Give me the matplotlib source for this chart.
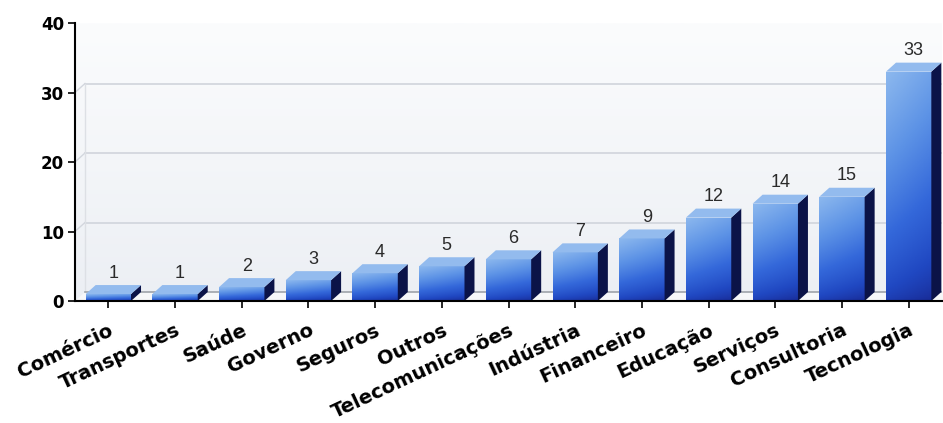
import numpy as np
import matplotlib.pyplot as plt
from matplotlib.colors import LinearSegmentedColormap
from matplotlib.patches import Polygon

# Empresas por setor
setores = ["Comércio", "Transportes", "Saúde", "Governo", "Seguros", "Outros",
           "Telecomunicações", "Indústria", "Financeiro", "Educação", "Serviços",
           "Consultoria", "Tecnologia"]
empresas = [1, 1, 2, 3, 4, 5, 6, 7, 9, 12, 14, 15, 33]
y_ticks = [0, 10, 20, 30, 40]
grid_vals = [10, 20, 30]

W, H = 943, 423
fig = plt.figure(figsize=(W / 100, H / 100), dpi=100)
ax_px = [75, 122, 867, 278]  # left, bottom, width, height in pixels
ax = fig.add_axes([ax_px[0] / W, ax_px[1] / H, ax_px[2] / W, ax_px[3] / H])

n = len(setores)
xmin, xmax = -0.5, n - 0.5
ymax = 40

# depth of the 3d look, 10 px right and 9 px up, in data units
dx = 10 * (xmax - xmin) / ax_px[2]
dy = 9 * ymax / ax_px[3]
w = 0.68

# background
bg = LinearSegmentedColormap.from_list("bg", ["#eceff4", "#fbfcfd"])
ax.imshow(np.linspace(0, 1, 100).reshape(-1, 1), extent=[xmin, xmax, 0, ymax],
          origin="lower", aspect="auto", cmap=bg, zorder=0)

# back wall grid
for g in grid_vals:
    ax.plot([xmin + dx, xmax], [g + dy, g + dy], color="#d3d7de", lw=1.3, zorder=1)
    ax.plot([xmin, xmin + dx], [g, g + dy], color="#d3d7de", lw=1.0, zorder=1)
ax.plot([xmin + dx, xmin + dx], [dy, grid_vals[-1] + dy], color="#dde0e5", lw=1.0, zorder=1)

# floor
ax.add_patch(Polygon([(xmin, 0), (xmax, 0), (xmax + dx, dy), (xmin + dx, dy)],
                     closed=True, facecolor="#f6f7f9", edgecolor="none", zorder=1,
                     clip_on=False))
ax.plot([xmin + dx, xmax], [dy, dy], color="#9ea3aa", lw=1.2, zorder=1)

front_cmap = LinearSegmentedColormap.from_list(
    "front", ["#182a95", "#2048c2", "#3468da", "#5d93e6", "#8cb8ee"])
gy = np.linspace(0, 1, 120).reshape(-1, 1)
gx = np.linspace(0, 1, 30).reshape(1, -1)
grad = np.clip(0.85 * gy ** 0.7 + 0.15 * (1 - gx), 0, 1)

bars = ax.bar(range(n), empresas, width=w, color="none", edgecolor="none", zorder=3)
for i, (bar, v) in enumerate(zip(bars, empresas)):
    x0, x1 = i - w / 2, i + w / 2
    im = ax.imshow(grad, extent=[x0, x1, 0, v], origin="lower", aspect="auto",
                   cmap=front_cmap, vmin=0, vmax=1, zorder=3)
    im.set_clip_path(bar)
    # right side face
    ax.add_patch(Polygon([(x1, 0), (x1 + dx, dy), (x1 + dx, v + dy), (x1, v)],
                         closed=True, facecolor="#0b1348", edgecolor="none",
                         zorder=3, clip_on=False))
    # top face
    ax.add_patch(Polygon([(x0, v), (x1, v), (x1 + dx, v + dy), (x0 + dx, v + dy)],
                         closed=True, facecolor="#93bbee", edgecolor="none",
                         zorder=3, clip_on=False))
    ax.text(i + dx / 2, v + dy + 0.5, str(v), ha="center", va="bottom",
            fontsize=13, family="Liberation Sans", color="#2a2a2a", zorder=4)

ax.set_xlim(xmin, xmax)
ax.set_ylim(0, ymax)
ax.set_yticks(y_ticks)
ax.set_yticklabels([str(t) for t in y_ticks], fontsize=12, fontweight="bold")
ax.set_xticks(range(n))
ax.set_xticklabels(setores, rotation=25, ha="right", va="top", rotation_mode="anchor",
                   fontsize=14, fontweight="bold")
ax.tick_params(axis="both", direction="out", length=5, width=1.2, color="black")
ax.tick_params(axis="x", pad=9)
ax.tick_params(axis="y", pad=3)

for s in ["top", "right"]:
    ax.spines[s].set_visible(False)
for s in ["left", "bottom"]:
    ax.spines[s].set_linewidth(1.5)
    ax.spines[s].set_color("black")
    ax.spines[s].set_zorder(5)

fig.savefig("out.png", dpi=100)
